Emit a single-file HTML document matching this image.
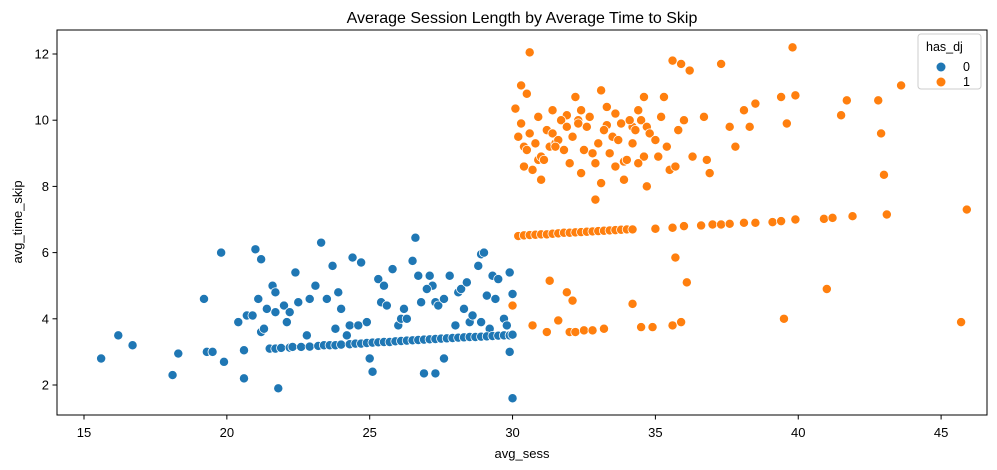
<!DOCTYPE html>
<html><head><meta charset="utf-8"><style>
body{margin:0;background:#fff}
svg{display:block;font-family:"Liberation Sans","DejaVu Sans",sans-serif}
</style></head><body>
<svg id="chart" width="997" height="470" viewBox="0 0 997 470">
<rect x="0" y="0" width="997" height="470" fill="#fff"/>
<text x="522" y="23" font-size="16" text-anchor="middle" fill="#000">Average Session Length by Average Time to Skip</text>
<g id="xticks"></g>
<g id="yticks"></g>
<g id="points"></g>
<rect x="57" y="30" width="930" height="385" fill="none" stroke="#000" stroke-width="1"/>
<text x="522" y="458" font-size="13" text-anchor="middle">avg_sess</text>
<text x="22" y="222" font-size="13" text-anchor="middle" transform="rotate(-90 22 222)">avg_time_skip</text>
<g>
<rect x="918" y="34" width="63" height="55" rx="3" fill="#fff" fill-opacity="0.8" stroke="#ccc"/>
<text x="926" y="51" font-size="12.5">has_dj</text>
<circle cx="941" cy="67" r="4.5" fill="#1f77b4"/>
<text x="963" y="71" font-size="12.5">0</text>
<circle cx="941" cy="82" r="4.5" fill="#ff7f0e"/>
<text x="963" y="86" font-size="12.5">1</text>
</g>
</svg>
<script>
const xTickLabels=[15,20,25,30,35,40,45];
const yTickLabels=[2,4,6,8,10,12];
const blueX=[15.6,16.2,16.7,18.1,18.3,19.2,19.3,19.5,19.8,19.9,20.4,20.6,20.6,20.7,20.9,21.0,21.1,21.2,21.2,21.4,21.6,21.7,21.7,21.8,22.0,22.2,22.4,22.5,22.8,22.9,23.1,23.3,23.5,23.7,23.8,24.0,24.3,24.4,24.6,24.7,24.9,25.0,25.1,25.3,25.4,25.6,25.8,26.0,26.1,26.3,26.5,26.6,26.7,26.8,26.9,27.1,27.2,27.3,27.3,27.4,27.6,27.6,27.8,28.0,28.1,28.2,28.4,28.5,28.6,28.8,28.9,29.0,29.1,29.2,29.3,29.4,29.5,29.7,29.9,29.9,30.0,30.0,29.8,28.9,28.3,27.0,26.2,25.5,24.2,23.9,22.1,21.3,
21.5,21.7,21.9,22.2,22.3,22.6,22.9,23.2,23.4,23.6,23.8,24.0,24.3,24.5,24.7,24.9,25.1,25.3,25.5,25.7,25.9,26.1,26.3,26.5,26.7,26.9,27.1,27.3,27.5,27.7,27.9,28.1,28.3,28.5,28.7,28.9,29.1,29.3,29.5,29.7,29.9,30.0];
const blueY=[2.8,3.5,3.2,2.3,2.95,4.6,3.0,3.0,6.0,2.7,3.9,3.05,2.2,4.1,4.1,6.1,4.6,5.8,3.6,4.3,5.0,4.8,4.2,1.9,4.4,4.2,5.4,4.5,3.5,4.6,5.0,6.3,4.6,5.6,3.7,4.3,3.8,5.85,3.8,5.7,3.9,2.8,2.4,5.2,4.5,4.4,5.5,3.8,4.0,4.0,5.75,6.45,5.3,4.5,2.35,5.3,5.0,2.35,4.5,4.4,4.6,2.8,5.3,3.8,4.8,4.9,5.1,3.9,4.1,5.6,5.95,6.0,4.7,3.7,5.3,4.6,5.2,4.0,5.4,3.0,1.6,4.75,3.8,3.9,4.3,4.9,4.3,5.0,3.5,4.8,3.9,3.7,
3.1,3.1,3.12,3.13,3.15,3.15,3.16,3.18,3.2,3.2,3.2,3.22,3.23,3.25,3.25,3.27,3.28,3.29,3.3,3.3,3.32,3.33,3.34,3.35,3.36,3.37,3.38,3.39,3.4,3.41,3.42,3.43,3.44,3.45,3.45,3.46,3.47,3.48,3.49,3.5,3.5,3.52];
const orangeX=[30.0,30.7,31.2,31.3,31.6,31.9,32.0,32.1,32.2,32.5,32.8,33.2,34.2,34.5,34.9,35.6,35.7,35.9,36.1,39.5,41.0,45.7,
30.2,30.4,30.6,30.8,31.0,31.2,31.4,31.6,31.8,32.0,32.2,32.4,32.6,32.8,33.0,33.2,33.4,33.6,33.8,34.0,34.2,35.0,35.6,36.0,36.6,37.0,37.3,37.6,38.1,38.5,39.1,39.4,39.9,40.9,41.2,41.9,43.1,45.9,
30.6,39.8,30.3,30.5,30.1,30.9,31.4,31.9,32.2,32.3,32.6,33.3,33.1,34.6,34.2,35.9,36.2,35.6,37.3,38.1,38.5,39.4,39.6,39.9,41.5,41.7,42.8,43.6,42.9,43.0,
30.2,30.3,30.4,30.6,30.8,30.9,31.0,31.2,31.3,31.4,31.5,31.6,31.7,31.8,31.9,32.0,32.1,32.3,32.4,32.5,32.7,32.8,32.9,33.0,33.2,33.3,33.4,33.5,33.6,33.7,33.8,33.9,34.0,34.1,34.2,34.3,34.4,34.5,34.6,34.7,34.8,35.0,35.2,35.3,35.4,35.5,35.7,35.8,36.0,36.3,36.7,36.9,37.6,37.8,38.3,30.4,30.7,31.1,31.5,32.4,33.1,33.9,34.7,35.1,32.9,33.6,31.0,30.5,34.4,36.8];
const orangeY=[4.4,3.8,3.6,5.15,3.95,4.8,3.6,4.55,3.6,3.65,3.65,3.7,4.45,3.75,3.75,3.8,5.85,3.9,5.1,4.0,4.9,3.9,
6.5,6.52,6.53,6.54,6.55,6.55,6.57,6.58,6.6,6.6,6.61,6.62,6.63,6.64,6.65,6.66,6.67,6.68,6.69,6.7,6.7,6.72,6.75,6.8,6.82,6.85,6.85,6.87,6.9,6.9,6.92,6.95,7.0,7.02,7.05,7.1,7.15,7.3,
12.05,12.2,11.05,10.8,10.35,10.1,10.3,10.15,10.7,10.0,9.8,9.85,10.9,10.7,9.8,11.7,11.5,11.8,11.7,10.3,10.5,10.7,9.9,10.75,10.15,10.6,10.6,11.05,9.6,8.35,
9.5,9.9,9.2,9.6,9.3,8.8,8.9,9.7,9.2,9.6,9.3,9.4,10.0,9.1,9.8,8.7,9.5,9.9,10.3,9.1,10.1,9.0,8.7,9.3,9.7,10.4,9.0,9.5,10.2,9.4,9.9,8.75,8.8,10.0,9.3,9.7,10.3,10.0,8.9,9.8,9.6,9.4,10.1,10.7,9.2,8.5,8.6,9.7,10.0,8.9,10.1,8.4,9.8,9.2,9.8,8.6,8.5,8.8,9.2,8.4,8.1,8.2,8.0,8.9,7.6,8.6,8.2,9.1,8.7,8.8,8.3,8.7,7.8,7.8,8.5,8.1,7.7,10.4,10.5];
const W=997;
const xScale=v=>84+(v-15)*28.57;
const yScale=v=>385-(v-2)*33.1;
const NS="http://www.w3.org/2000/svg";
const gx=document.getElementById('xticks'),gy=document.getElementById('yticks'),gp=document.getElementById('points');
xTickLabels.forEach(t=>{
 const x=xScale(t);
 const l=document.createElementNS(NS,'line');
 l.setAttribute('x1',x);l.setAttribute('x2',x);l.setAttribute('y1',415);l.setAttribute('y2',419.5);l.setAttribute('stroke','#000');
 
 
 gx.appendChild(l);
 const tx=document.createElementNS(NS,'text');
 tx.setAttribute('x',x);tx.setAttribute('y',437);tx.setAttribute('font-size','13');tx.setAttribute('text-anchor','middle');tx.textContent=t;
 
 
 gx.appendChild(tx);
});
yTickLabels.forEach(t=>{
 const y=yScale(t);
 const l=document.createElementNS(NS,'line');
 l.setAttribute('x1',52.5);l.setAttribute('x2',57);l.setAttribute('y1',y);l.setAttribute('y2',y);l.setAttribute('stroke','#000');
 
 
 gy.appendChild(l);
 const tx=document.createElementNS(NS,'text');
 tx.setAttribute('x',49);tx.setAttribute('y',y+4.5);tx.setAttribute('font-size','13');tx.setAttribute('text-anchor','end');tx.textContent=t;
 
 
 gy.appendChild(tx);
});
function drawSeries(xs,ys,color,name){
 for(let i=0;i<xs.length;i++){
  const c=document.createElementNS(NS,'circle');
  c.setAttribute('cx',xScale(xs[i]));c.setAttribute('cy',yScale(ys[i]));c.setAttribute('r',4.6);
  c.setAttribute('fill',color);c.setAttribute('stroke','#fff');c.setAttribute('stroke-width','0.75');
  
  
  gp.appendChild(c);
 }
}
drawSeries(blueX,blueY,'#1f77b4','point-has-dj-0');
drawSeries(orangeX,orangeY,'#ff7f0e','point-has-dj-1');
</script>
</body></html>
